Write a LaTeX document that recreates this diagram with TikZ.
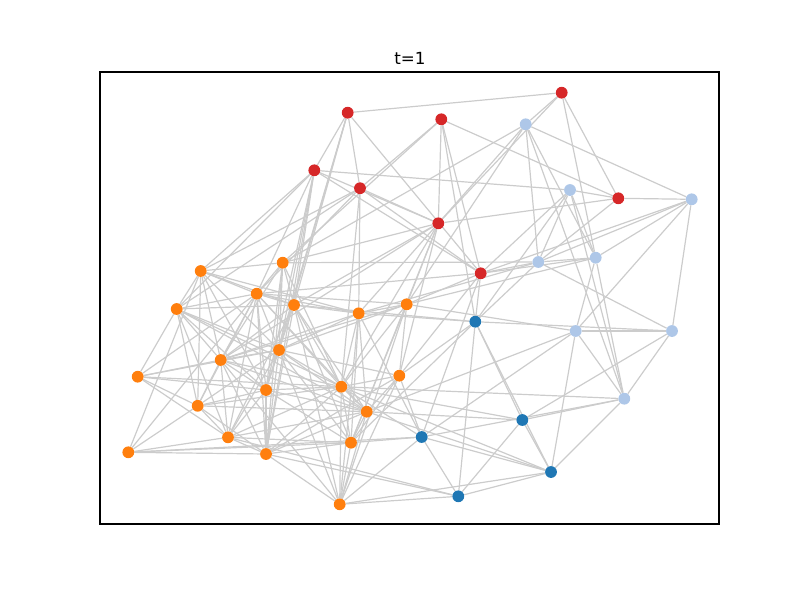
\documentclass[tikz,border=0pt]{standalone}
\usepackage{fontspec}
\setmainfont{DejaVu Sans}
\pgfdeclarelayer{bg}
\pgfsetlayers{bg,main}
\definecolor{cred}{HTML}{D62728}
\definecolor{clb}{HTML}{AEC7E8}
\definecolor{cdb}{HTML}{1F77B4}
\definecolor{cor}{HTML}{FF7F0E}
\definecolor{cedge}{HTML}{CCCCCC}
\tikzset{
  vtx/.style={circle,inner sep=0pt,minimum size=11.8pt,draw=none},
  rv/.style={vtx,fill=cred},
  lv/.style={vtx,fill=clb},
  bv/.style={vtx,fill=cdb},
  ov/.style={vtx,fill=cor},
  edge/.style={draw=cedge,line width=1.2pt}
}
\begin{document}
\begin{tikzpicture}[x=1pt,y=-1pt]
\useasboundingbox (0,0) rectangle (800,600);
\draw[line width=1.1pt] (100,72) rectangle (719,524);
\node[anchor=base,font=\fontsize{16.7}{20}\selectfont] (title) at (410,64) {t=1};
% red
\node[rv] (r1) at (347.7,112.7) {};
\node[rv] (r2) at (441.3,119.3) {};
\node[rv] (r3) at (561.7,92.7) {};
\node[rv] (r4) at (314.3,170.3) {};
\node[rv] (r5) at (360,188.2) {};
\node[rv] (r6) at (438.3,223.3) {};
\node[rv] (r7) at (618.3,198.3) {};
\node[rv] (r8) at (480.7,273.3) {};
% light blue
\node[lv] (l1) at (525.7,124.3) {};
\node[lv] (l2) at (570,190) {};
\node[lv] (l3) at (691.7,199.3) {};
\node[lv] (l4) at (538.3,262) {};
\node[lv] (l5) at (595.7,257.7) {};
\node[lv] (l6) at (575.7,331) {};
\node[lv] (l7) at (672,331) {};
\node[lv] (l8) at (624.3,398.7) {};
% dark blue
\node[bv] (b1) at (475.3,321.7) {};
\node[bv] (b2) at (421.7,437) {};
\node[bv] (b3) at (522.3,420) {};
\node[bv] (b4) at (551,472) {};
\node[bv] (b5) at (458.3,496.3) {};
% orange
\node[ov] (o1) at (200.7,271) {};
\node[ov] (o2) at (282.7,262.7) {};
\node[ov] (o3) at (256.7,293.7) {};
\node[ov] (o4) at (294,305) {};
\node[ov] (o5) at (176.7,309) {};
\node[ov] (o6) at (358.7,313.3) {};
\node[ov] (o7) at (406.7,304.3) {};
\node[ov] (o8) at (279,350) {};
\node[ov] (o9) at (220.7,360) {};
\node[ov] (o10) at (137.7,376.7) {};
\node[ov] (o11) at (266,390) {};
\node[ov] (o12) at (341.3,386.7) {};
\node[ov] (o13) at (399.3,375.7) {};
\node[ov] (o14) at (197.7,405.8) {};
\node[ov] (o15) at (366.7,411.7) {};
\node[ov] (o16) at (228,437.3) {};
\node[ov] (o17) at (351,442.7) {};
\node[ov] (o18) at (128.3,452.3) {};
\node[ov] (o19) at (266,454) {};
\node[ov] (o20) at (339.7,504.3) {};
\begin{pgfonlayer}{bg}
\foreach \a/\b in {r1/r3,r1/r4,r1/r5,r1/r8,r1/o4,r1/o8,r1/o11,
 r2/r6,r2/b1,r2/r7,r2/r5,r2/o2,r2/r8,
 r3/l1,r3/r6,r3/l5,r3/r7,
 r4/l2,r4/r8,r4/r6,r4/o1,r4/o3,r4/o4,r4/o8,r4/o19,r4/o11,r4/o5,
 r5/r8,r5/r6,r5/o1,r5/o6,r5/o12,r5/o5,r5/o3,
 r6/r7,r6/l1,r6/o6,r6/o7,r6/o12,r6/o4,r6/o13,r6/o17,r6/o9,r6/o2,
 r7/l3,r7/l4,r7/l2,
 r8/l4,r8/l5,r8/b1,r8/b2,r8/o3,r8/o7,r8/o13,r8/l3,
 l1/l4,l1/l5,l1/l3,l1/o2,l1/o7,l1/l8,
 l2/l4,l2/l5,l2/r8,l2/b1,l2/l8,
 l3/l4,l3/l7,l3/l6,l3/l5,
 l4/l5,l4/l7,l4/b1,l4/o2,l4/o6,
 l5/l6,l5/l8,l5/o7,
 l6/l7,l6/l8,l6/b4,l6/o7,l6/b2,l6/o15,
 l7/l8,l7/b1,l7/b3,
 l8/b3,l8/b2,l8/b4,l8/o12,
 b1/b3,b1/b4,b1/b5,b1/o6,b1/o4,b1/o13,b1/o17,
 b2/b5,b2/o20,b2/o17,b2/o12,b2/o13,b2/o6,b2/b4,b2/o18,
 b3/b4,b3/b5,b3/o15,b3/o12,
 b4/b5,b4/o20,b4/o12,b4/o15,
 b5/o20,b5/o19,b5/o16,
 o1/o2,o1/o3,o1/o4,o1/o5,o1/o9,o1/o8,o1/o11,o1/o14,o1/o6,
 o2/o3,o2/o8,o2/o11,o2/o9,o2/o12,o2/o19,o2/o4,
 o3/o4,o3/o5,o3/o8,o3/o9,o3/o11,o3/o14,o3/o16,o3/o19,o3/o12,o3/o6,o3/o7,o3/o15,
 o4/o5,o4/o6,o4/o8,o4/o9,o4/o12,o4/o15,o4/o17,o4/o19,o4/o16,
 o5/o9,o5/o8,o5/o11,o5/o12,o5/o15,o5/o16,o5/o14,o5/o10,
 o6/o7,o6/o8,o6/o9,o6/o12,o6/o15,o6/o17,o6/o20,
 o7/o8,o7/o12,o7/o13,o7/o17,o7/o20,o7/o9,
 o8/o9,o8/o11,o8/o12,o8/o15,o8/o16,o8/o17,o8/o19,o8/o13,o8/o14,o8/o20,
 o9/o10,o9/o11,o9/o12,o9/o14,o9/o16,o9/o19,o9/o15,o9/o20,
 o10/o8,o10/o3,o10/o11,o10/o12,o10/o14,o10/o16,
 o11/o12,o11/o14,o11/o16,o11/o19,o11/o15,o11/o17,
 o12/o13,o12/o15,o12/o17,o12/o19,o12/o20,o12/o16,
 o13/o15,o13/o17,o13/o19,o13/o20,
 o14/o16,o14/o19,o14/o15,o14/o12,
 o15/o17,o15/o19,o15/o20,o15/o16,
 o16/o19,o16/o17,
 o17/o19,o17/o20,
 o18/o16,o18/o19,o18/o17,o18/o14,o18/o1,o18/o3,
 o19/o20,o4/o20}
  \draw[edge] (\a) -- (\b);
\end{pgfonlayer}
\end{tikzpicture}
\end{document}
